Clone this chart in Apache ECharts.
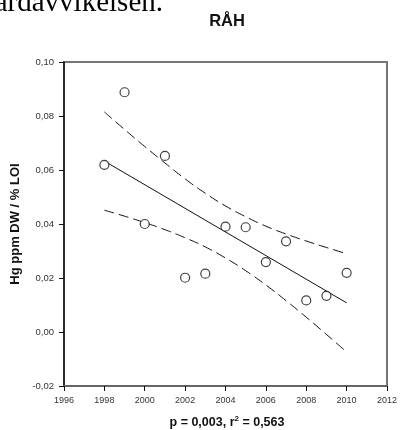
<!DOCTYPE html>
<html>
<head>
<meta charset="utf-8">
<script src="https://cdn.jsdelivr.net/npm/echarts@6/dist/echarts.min.js"></script>
<style>
html,body{margin:0;padding:0;background:#fff;}
#c{width:400px;height:430px;}
</style>
</head>
<body>
<div id="c"></div>
<script>
// Observed data (year, Hg ppm DW / % LOI)
var years = [1998, 1999, 2000, 2001, 2002, 2003, 2004, 2005, 2006, 2007, 2008, 2009, 2010];
var values = [0.0619, 0.0888, 0.0400, 0.0652, 0.0201, 0.0216, 0.0390, 0.0388, 0.0259, 0.0336, 0.0117, 0.0134, 0.0219];
// Regression line (endpoints)
var fitYears = [1998, 2010];
var fitValues = [0.0633, 0.0108];
// Confidence band values at each year
var upperBand = [0.0815, 0.0750, 0.0687, 0.0626, 0.0567, 0.0514, 0.0467, 0.0427, 0.0392, 0.0363, 0.0337, 0.0313, 0.0290];
var lowerBand = [0.0451, 0.0429, 0.0405, 0.0379, 0.0349, 0.0315, 0.0274, 0.0227, 0.0174, 0.0116, 0.0055, -0.0009, -0.0074];

var titleText = 'RÅH';
var yName = 'Hg ppm DW / % LOI';
var topFragment = 'uardavvikelsen.';

function pairs(xs, ys) { return xs.map(function (x, i) { return [x, ys[i]]; }); }

var chart = echarts.init(document.getElementById('c'), null, {renderer: 'canvas'});
var font = 'Arial, "Liberation Sans", Helvetica, sans-serif';
chart.setOption({
  animation: false,
  backgroundColor: '#fff',
  grid: {left: 64, right: 9, top: 62, bottom: 44, show: true, borderColor: '#777', borderWidth: 2, backgroundColor: 'transparent'},
  xAxis: {
    type: 'value', min: 1996, max: 2012, interval: 2,
    axisLine: {show: true, onZero: false, lineStyle: {color: '#666', width: 2}},
    axisTick: {show: true, length: 5, lineStyle: {color: '#111', width: 1}},
    axisLabel: {color: '#333', fontSize: 9, fontFamily: font, margin: 10, formatter: function (v) { return String(v); }},
    splitLine: {show: false}
  },
  yAxis: {
    type: 'value', min: -0.02, max: 0.10, interval: 0.02,
    name: yName, nameLocation: 'middle', nameGap: 41,
    nameTextStyle: {fontSize: 13, fontWeight: 'bold', color: '#111', fontFamily: font},
    axisLine: {show: true, onZero: false, lineStyle: {color: '#111', width: 1.5}},
    axisTick: {show: true, length: 5, lineStyle: {color: '#111', width: 1}},
    axisLabel: {color: '#333', fontSize: 9.5, fontFamily: font, margin: 10,
      formatter: function (v) { return v.toFixed(2).replace('.', ','); }},
    splitLine: {show: false}
  },
  graphic: [
    {type: 'text', x: 163, y: 3, style: {text: topFragment, font: '29px "Liberation Serif", "Times New Roman", serif', fill: '#000', align: 'right', verticalAlign: 'middle'}},
    {type: 'text', x: 227, y: 21, style: {text: titleText, font: 'bold 16.5px Arial, "Liberation Sans", sans-serif', fill: '#111', align: 'center', verticalAlign: 'middle'}},
    {type: 'text', x: 227, y: 422, style: {
      text: '{a|p = 0,003, r}{s|2}{a| = 0,563}',
      align: 'center', verticalAlign: 'middle',
      rich: {
        a: {font: 'bold 12.5px Arial, "Liberation Sans", sans-serif', fill: '#111', verticalAlign: 'bottom'},
        s: {font: 'bold 8px Arial, "Liberation Sans", sans-serif', fill: '#111', verticalAlign: 'top', padding: [0, 0, 6, 0]}
      }
    }}
  ],
  series: [
    {type: 'line', data: pairs(years, upperBand), smooth: true, symbol: 'none',
      lineStyle: {color: '#111', width: 1, type: [10, 5]}, z: 2},
    {type: 'line', data: pairs(years, lowerBand), smooth: true, symbol: 'none',
      lineStyle: {color: '#111', width: 1, type: [10, 5]}, z: 2},
    {type: 'line', data: pairs(fitYears, fitValues), symbol: 'none',
      lineStyle: {color: '#111', width: 1}, z: 2},
    {type: 'scatter', data: pairs(years, values), symbol: 'circle', symbolSize: 9,
      itemStyle: {color: '#fff', borderColor: '#111', borderWidth: 1.2}, z: 5}
  ]
});
</script>
</body>
</html>
